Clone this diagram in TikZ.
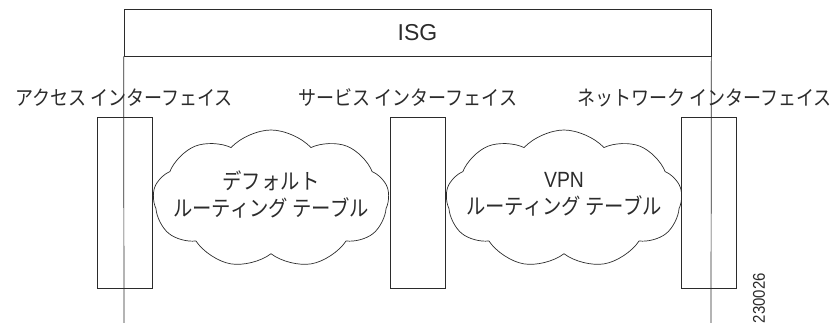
\documentclass[tikz,border=0pt]{standalone}
\usepackage{fontspec}
\setmainfont{Liberation Sans}
\newfontfamily\jpfont[FakeStretch=0.88]{Noto Sans CJK JP}
\newfontfamily\narrowfont[FakeStretch=0.88]{Liberation Sans}
\definecolor{WireGrey}{HTML}{2b2b2b}
\usetikzlibrary{positioning,shapes.symbols}
\newcommand{\iface}{インターフェイス}
\newcommand{\rtable}{ルーティング テーブル}

\begin{document}
\begin{tikzpicture}[x=1pt,y=-1pt,
    every node/.style={inner sep=0pt,text=WireGrey},
    frame/.style={draw=WireGrey,line width=0.7pt},
    ifbox/.style={frame,minimum width=55pt,minimum height=171pt},
    tblcloud/.style={frame,cloud,cloud puffs=9,cloud puff arc=95,
                     cloud ignores aspect,minimum width=236pt,minimum height=138pt},
    iflabel/.style={font=\jpfont\fontsize{20.5}{22}\selectfont},
    tbltext/.style={font=\jpfont\fontsize{22}{27}\selectfont,align=center}]

  \useasboundingbox (0,0) rectangle (836,323);

  % ISG header and its two side rails
  \node[frame,minimum width=587pt,minimum height=47pt,
        font=\fontsize{23}{26}\selectfont] (isg) at (417.5,32.5) {ISG};
  \coordinate (accbot) at (124,323);
  \coordinate (netbot) at (711,323);
  \draw[WireGrey,line width=0.7pt] (isg.south west) -- (accbot);
  \draw[WireGrey,line width=0.7pt] (isg.south east) -- (netbot);

  % interfaces
  \node[ifbox] (accbox) at (124.5,202.5) {};
  \node[ifbox] (srvbox) at (418,202.5) {};
  \node[ifbox] (netbox) at (709,202.5) {};
  \node[iflabel] (acclabel) at (124,98) {アクセス \iface};
  \node[iflabel] (srvlabel) at (408,98) {サービス \iface};
  \node[iflabel] (netlabel) at (704.5,98) {ネットワーク \iface};

  % routing tables
  \node[tblcloud] (deftbl) at (271,199) {};
  \node[tblcloud] (vpntbl) at (564,199) {};
  \node[tbltext] (deftext) at ([yshift=5pt]deftbl.center) {デフォルト\\\rtable};
  \node[tbltext] (vpntext) at ([yshift=5pt]vpntbl.center)
       {{\narrowfont\fontsize{22}{27}\selectfont VPN}\\\rtable};

  \node[rotate=90,anchor=east,font=\narrowfont\fontsize{17}{19}\selectfont] (figno)
       at (759,273) {230026};
\end{tikzpicture}
\end{document}
